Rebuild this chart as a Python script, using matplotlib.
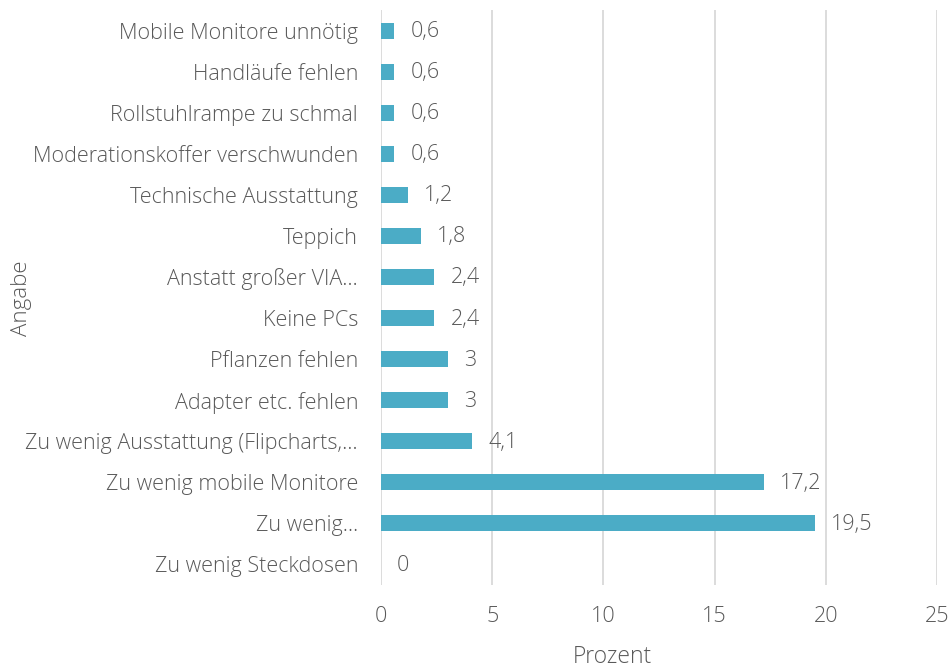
import matplotlib.pyplot as plt
import numpy as np

plt.rcParams['font.family'] = ['Open Sans', 'DejaVu Sans']

labels = ['Mobile Monitore unnötig', 'Handläufe fehlen', 'Rollstuhlrampe zu schmal',
          'Moderationskoffer verschwunden', 'Technische Ausstattung', 'Teppich',
          'Anstatt großer VIA…', 'Keine PCs', 'Pflanzen fehlen', 'Adapter etc. fehlen',
          'Zu wenig Ausstattung (Flipcharts,…', 'Zu wenig mobile Monitore', 'Zu wenig…',
          'Zu wenig Steckdosen']
values = [0.6, 0.6, 0.6, 0.6, 1.2, 1.8, 2.4, 2.4, 3, 3, 4.1, 17.2, 19.5, 0]
value_text = ['0,6', '0,6', '0,6', '0,6', '1,2', '1,8', '2,4', '2,4', '3', '3', '4,1',
              '17,2', '19,5', '0']

bar_color = '#4BACC6'
text_color = '#595959'
fs = 15.5

fig = plt.figure(figsize=(9.53, 6.69), dpi=100)
ax = fig.add_axes([381 / 953, 1 - 585 / 669, (937 - 381) / 953, 575 / 669])

y = np.arange(len(labels))
ax.barh(y, values, height=0.39, color=bar_color, zorder=3)
ax.set_ylim(len(labels) - 0.5, -0.5)
ax.set_xlim(0, 25)
ax.set_xticks(np.arange(0, 26, 5))
ax.set_yticks(y)
ax.set_yticklabels(labels, fontweight='light')
ax.tick_params(axis='y', length=0, pad=16.5, labelsize=fs, labelcolor=text_color)
ax.tick_params(axis='x', length=0, pad=15, labelsize=fs, labelcolor=text_color)
for lbl in ax.get_xticklabels():
    lbl.set_fontweight('light')

ax.grid(axis='x', color='#D9D9D9', linewidth=1.3, zorder=0)
for s in ax.spines.values():
    s.set_visible(False)

for yi, v, t in zip(y, values, value_text):
    ax.annotate(t, (v, yi), xytext=(16, -1), textcoords='offset pixels',
                va='center', ha='left', fontsize=fs, color=text_color, fontweight='light')

fig.text(612 / 953, 1 - 657 / 669, 'Prozent', ha='center', va='center',
         fontsize=16.5, color=text_color, fontweight='light')
fig.text(22 / 953, 1 - 298 / 669, 'Angabe', ha='center', va='center', rotation=90,
         fontsize=16, color=text_color, fontweight='light')

fig.savefig('out.png', dpi=100)
